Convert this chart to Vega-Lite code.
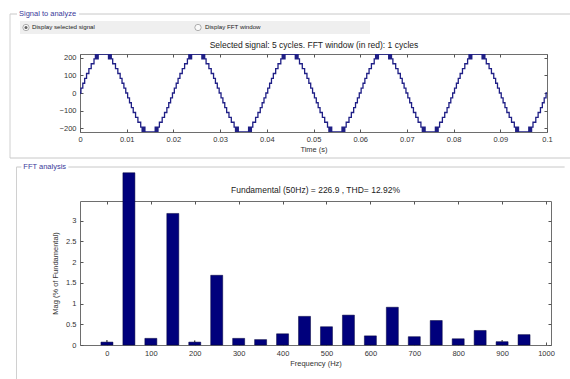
{
  "$schema": "https://vega.github.io/schema/vega-lite/v6.json",
  "autosize": {"type": "none"},
  "padding": {"left": 80, "top": 54, "right": 490, "bottom": 325},
  "background": "white",
  "bounds": "flush",
  "spacing": 69,
  "config": {
    "font": "Liberation Sans",
    "view": {"stroke": "#6e6e6e", "strokeWidth": 1},
    "axis": {"grid": false, "domain": false, "tickColor": "#555555", "tickSize": -3, "labelFontSize": 7.5, "labelColor": "#333333", "titleFontSize": 7.5, "titleFontWeight": "normal", "titleColor": "#333333", "labelFlush": false, "labelPadding": 7},
    "text": {"font": "Liberation Sans"}
  },
  "datasets": {
    "signal": [
      {"t":0,"v":0},
      {"t":0.0002,"v":27.5},{"t":0.0006,"v":55},{"t":0.001,"v":82.5},{"t":0.0014,"v":110},{"t":0.0019,"v":137.5},{"t":0.0024,"v":165},{"t":0.003,"v":192.5},{"t":0.0033,"v":220},{"t":0.0034,"v":192.5},{"t":0.0036,"v":220},{"t":0.0037,"v":192.5},{"t":0.0039,"v":220},{"t":0.0061,"v":192.5},{"t":0.0063,"v":220},{"t":0.0064,"v":192.5},{"t":0.0066,"v":220},{"t":0.0067,"v":192.5},{"t":0.007,"v":165},{"t":0.0076,"v":137.5},{"t":0.0081,"v":110},{"t":0.0086,"v":82.5},{"t":0.009,"v":55},{"t":0.0094,"v":27.5},{"t":0.0098,"v":0},
      {"t":0.0102,"v":-27.5},{"t":0.0106,"v":-55},{"t":0.011,"v":-82.5},{"t":0.0114,"v":-110},{"t":0.0119,"v":-137.5},{"t":0.0124,"v":-165},{"t":0.013,"v":-192.5},{"t":0.0133,"v":-220},{"t":0.0134,"v":-192.5},{"t":0.0136,"v":-220},{"t":0.0137,"v":-192.5},{"t":0.0139,"v":-220},{"t":0.0161,"v":-192.5},{"t":0.0163,"v":-220},{"t":0.0164,"v":-192.5},{"t":0.0166,"v":-220},{"t":0.0167,"v":-192.5},{"t":0.017,"v":-165},{"t":0.0176,"v":-137.5},{"t":0.0181,"v":-110},{"t":0.0186,"v":-82.5},{"t":0.019,"v":-55},{"t":0.0194,"v":-27.5},{"t":0.0198,"v":0},
      {"t":0.0202,"v":27.5},{"t":0.0206,"v":55},{"t":0.021,"v":82.5},{"t":0.0214,"v":110},{"t":0.0219,"v":137.5},{"t":0.0224,"v":165},{"t":0.023,"v":192.5},{"t":0.0233,"v":220},{"t":0.0234,"v":192.5},{"t":0.0236,"v":220},{"t":0.0237,"v":192.5},{"t":0.0239,"v":220},{"t":0.0261,"v":192.5},{"t":0.0263,"v":220},{"t":0.0264,"v":192.5},{"t":0.0266,"v":220},{"t":0.0267,"v":192.5},{"t":0.027,"v":165},{"t":0.0276,"v":137.5},{"t":0.0281,"v":110},{"t":0.0286,"v":82.5},{"t":0.029,"v":55},{"t":0.0294,"v":27.5},{"t":0.0298,"v":0},
      {"t":0.0302,"v":-27.5},{"t":0.0306,"v":-55},{"t":0.031,"v":-82.5},{"t":0.0314,"v":-110},{"t":0.0319,"v":-137.5},{"t":0.0324,"v":-165},{"t":0.033,"v":-192.5},{"t":0.0333,"v":-220},{"t":0.0334,"v":-192.5},{"t":0.0336,"v":-220},{"t":0.0337,"v":-192.5},{"t":0.0339,"v":-220},{"t":0.0361,"v":-192.5},{"t":0.0363,"v":-220},{"t":0.0364,"v":-192.5},{"t":0.0366,"v":-220},{"t":0.0367,"v":-192.5},{"t":0.037,"v":-165},{"t":0.0376,"v":-137.5},{"t":0.0381,"v":-110},{"t":0.0386,"v":-82.5},{"t":0.039,"v":-55},{"t":0.0394,"v":-27.5},{"t":0.0398,"v":0},
      {"t":0.0402,"v":27.5},{"t":0.0406,"v":55},{"t":0.041,"v":82.5},{"t":0.0414,"v":110},{"t":0.0419,"v":137.5},{"t":0.0424,"v":165},{"t":0.043,"v":192.5},{"t":0.0433,"v":220},{"t":0.0434,"v":192.5},{"t":0.0436,"v":220},{"t":0.0437,"v":192.5},{"t":0.0439,"v":220},{"t":0.0461,"v":192.5},{"t":0.0463,"v":220},{"t":0.0464,"v":192.5},{"t":0.0466,"v":220},{"t":0.0467,"v":192.5},{"t":0.047,"v":165},{"t":0.0476,"v":137.5},{"t":0.0481,"v":110},{"t":0.0486,"v":82.5},{"t":0.049,"v":55},{"t":0.0494,"v":27.5},{"t":0.0498,"v":0},
      {"t":0.0502,"v":-27.5},{"t":0.0506,"v":-55},{"t":0.051,"v":-82.5},{"t":0.0514,"v":-110},{"t":0.0519,"v":-137.5},{"t":0.0524,"v":-165},{"t":0.053,"v":-192.5},{"t":0.0533,"v":-220},{"t":0.0534,"v":-192.5},{"t":0.0536,"v":-220},{"t":0.0537,"v":-192.5},{"t":0.0539,"v":-220},{"t":0.0561,"v":-192.5},{"t":0.0563,"v":-220},{"t":0.0564,"v":-192.5},{"t":0.0566,"v":-220},{"t":0.0567,"v":-192.5},{"t":0.057,"v":-165},{"t":0.0576,"v":-137.5},{"t":0.0581,"v":-110},{"t":0.0586,"v":-82.5},{"t":0.059,"v":-55},{"t":0.0594,"v":-27.5},{"t":0.0598,"v":0},
      {"t":0.0602,"v":27.5},{"t":0.0606,"v":55},{"t":0.061,"v":82.5},{"t":0.0614,"v":110},{"t":0.0619,"v":137.5},{"t":0.0624,"v":165},{"t":0.063,"v":192.5},{"t":0.0633,"v":220},{"t":0.0634,"v":192.5},{"t":0.0636,"v":220},{"t":0.0637,"v":192.5},{"t":0.0639,"v":220},{"t":0.0661,"v":192.5},{"t":0.0663,"v":220},{"t":0.0664,"v":192.5},{"t":0.0666,"v":220},{"t":0.0667,"v":192.5},{"t":0.067,"v":165},{"t":0.0676,"v":137.5},{"t":0.0681,"v":110},{"t":0.0686,"v":82.5},{"t":0.069,"v":55},{"t":0.0694,"v":27.5},{"t":0.0698,"v":0},
      {"t":0.0702,"v":-27.5},{"t":0.0706,"v":-55},{"t":0.071,"v":-82.5},{"t":0.0714,"v":-110},{"t":0.0719,"v":-137.5},{"t":0.0724,"v":-165},{"t":0.073,"v":-192.5},{"t":0.0733,"v":-220},{"t":0.0734,"v":-192.5},{"t":0.0736,"v":-220},{"t":0.0737,"v":-192.5},{"t":0.0739,"v":-220},{"t":0.0761,"v":-192.5},{"t":0.0763,"v":-220},{"t":0.0764,"v":-192.5},{"t":0.0766,"v":-220},{"t":0.0767,"v":-192.5},{"t":0.077,"v":-165},{"t":0.0776,"v":-137.5},{"t":0.0781,"v":-110},{"t":0.0786,"v":-82.5},{"t":0.079,"v":-55},{"t":0.0794,"v":-27.5},{"t":0.0798,"v":0},
      {"t":0.0802,"v":27.5},{"t":0.0806,"v":55},{"t":0.081,"v":82.5},{"t":0.0814,"v":110},{"t":0.0819,"v":137.5},{"t":0.0824,"v":165},{"t":0.083,"v":192.5},{"t":0.0833,"v":220},{"t":0.0834,"v":192.5},{"t":0.0836,"v":220},{"t":0.0837,"v":192.5},{"t":0.0839,"v":220},{"t":0.0861,"v":192.5},{"t":0.0863,"v":220},{"t":0.0864,"v":192.5},{"t":0.0866,"v":220},{"t":0.0867,"v":192.5},{"t":0.087,"v":165},{"t":0.0876,"v":137.5},{"t":0.0881,"v":110},{"t":0.0886,"v":82.5},{"t":0.089,"v":55},{"t":0.0894,"v":27.5},{"t":0.0898,"v":0},
      {"t":0.0902,"v":-27.5},{"t":0.0906,"v":-55},{"t":0.091,"v":-82.5},{"t":0.0914,"v":-110},{"t":0.0919,"v":-137.5},{"t":0.0924,"v":-165},{"t":0.093,"v":-192.5},{"t":0.0933,"v":-220},{"t":0.0934,"v":-192.5},{"t":0.0936,"v":-220},{"t":0.0937,"v":-192.5},{"t":0.0939,"v":-220},{"t":0.0961,"v":-192.5},{"t":0.0963,"v":-220},{"t":0.0964,"v":-192.5},{"t":0.0966,"v":-220},{"t":0.0967,"v":-192.5},{"t":0.097,"v":-165},{"t":0.0976,"v":-137.5},{"t":0.0981,"v":-110},{"t":0.0986,"v":-82.5},{"t":0.099,"v":-55},{"t":0.0994,"v":-27.5},{"t":0.0998,"v":0},
      {"t":0.1,"v":0}
    ],
    "fft": [
      {"f":0,"m":0.07},{"f":50,"m":4.15},{"f":100,"m":0.16},{"f":150,"m":3.17},{"f":200,"m":0.07},
      {"f":250,"m":1.68},{"f":300,"m":0.16},{"f":350,"m":0.13},{"f":400,"m":0.27},{"f":450,"m":0.69},
      {"f":500,"m":0.44},{"f":550,"m":0.72},{"f":600,"m":0.22},{"f":650,"m":0.91},{"f":700,"m":0.2},
      {"f":750,"m":0.59},{"f":800,"m":0.15},{"f":850,"m":0.35},{"f":900,"m":0.08},{"f":950,"m":0.25}
    ],
    "spikes": [
      {"f":0,"lo":0.07,"hi":0.12},{"f":200,"lo":0.07,"hi":0.11},{"f":900,"lo":0.08,"hi":0.12}
    ]
  },
  "vconcat": [
    {
      "width": 467,
      "height": 78,
      "resolve": {"axis": {"x": "independent", "y": "independent"}},
      "layer": [
        {
          "data": {"values": [{}]},
          "mark": {"type": "rule", "color": "#c8c8c8", "strokeWidth": 1},
          "encoding": {
            "x": {"datum": -0.014989, "type": "quantitative", "axis": null},
            "x2": {"datum": -0.01349},
            "y": {"datum": 445.6, "type": "quantitative", "axis": null}
          }
        },
        {
          "data": {"values": [{}]},
          "mark": {"type": "rule", "color": "#c8c8c8", "strokeWidth": 1},
          "encoding": {
            "x": {"datum": -0.0002, "type": "quantitative", "axis": null},
            "x2": {"datum": 0.104925},
            "y": {"datum": 445.6, "type": "quantitative", "axis": null}
          }
        },
        {
          "data": {"values": [{}]},
          "mark": {"type": "rule", "color": "#d0d0d0", "strokeWidth": 1},
          "encoding": {
            "x": {"datum": -0.014989, "type": "quantitative", "axis": null},
            "y": {"datum": 445.6, "type": "quantitative", "axis": null},
            "y2": {"datum": -366.7}
          }
        },
        {
          "data": {"values": [{}]},
          "mark": {"type": "rule", "color": "#c8c8c8", "strokeWidth": 1},
          "encoding": {
            "x": {"datum": -0.014989, "type": "quantitative", "axis": null},
            "x2": {"datum": 0.104925},
            "y": {"datum": -366.7, "type": "quantitative", "axis": null}
          }
        },
        {
          "data": {"values": [{}]},
          "mark": {"type": "text", "align": "left", "baseline": "middle", "fontSize": 7.5, "color": "#3a3a9a"},
          "encoding": {
            "x": {"datum": -0.013062, "type": "quantitative", "axis": null},
            "y": {"datum": 445.6, "type": "quantitative", "axis": null},
            "text": {"value": "Signal to analyze"}
          }
        },
        {
          "data": {"values": [{}]},
          "mark": {"type": "rect", "color": "#efefef"},
          "encoding": {
            "x": {"datum": -0.012848, "type": "quantitative", "axis": null},
            "x2": {"datum": 0.062099},
            "y": {"datum": 406.2, "type": "quantitative", "axis": null},
            "y2": {"datum": 332.8}
          }
        },
        {
          "data": {"values": [{"tx": -0.011563}, {"tx": 0.025268}]},
          "mark": {"type": "point", "shape": "circle", "size": 40, "filled": true, "fill": "white", "stroke": "#7a7a7a", "strokeWidth": 0.8},
          "encoding": {
            "x": {"field": "tx", "type": "quantitative", "axis": null},
            "y": {"datum": 369.5, "type": "quantitative", "axis": null}
          }
        },
        {
          "data": {"values": [{}]},
          "mark": {"type": "point", "shape": "circle", "size": 9, "filled": true, "color": "#222222"},
          "encoding": {
            "x": {"datum": -0.011563, "type": "quantitative", "axis": null},
            "y": {"datum": 369.5, "type": "quantitative", "axis": null}
          }
        },
        {
          "data": {"values": [{"tx": -0.010278, "label": "Display selected signal"}, {"tx": 0.026767, "label": "Display FFT window"}]},
          "mark": {"type": "text", "align": "left", "baseline": "middle", "fontSize": 6.2, "color": "#222222"},
          "encoding": {
            "x": {"field": "tx", "type": "quantitative", "axis": null},
            "y": {"datum": 369.5, "type": "quantitative", "axis": null},
            "text": {"field": "label"}
          }
        },
        {
          "data": {"values": [{}]},
          "mark": {"type": "text", "align": "center", "baseline": "middle", "fontSize": 8.5, "color": "#222222"},
          "encoding": {
            "x": {"datum": 0.0501, "type": "quantitative", "axis": null},
            "y": {"datum": 270.8, "type": "quantitative", "axis": null},
            "text": {"value": "Selected signal: 5 cycles. FFT window (in red): 1 cycles"}
          }
        },
        {
          "data": {"name": "signal"},
          "mark": {"type": "line", "interpolate": "step-after", "color": "#1f1f86", "strokeWidth": 1.3, "clip": true},
          "encoding": {
            "x": {"field": "t", "type": "quantitative", "scale": {"domain": [0, 0.1], "nice": false, "zero": false},
                  "axis": {"values": [0, 0.01, 0.02, 0.03, 0.04, 0.05, 0.06, 0.07, 0.08, 0.09, 0.1], "format": "~g", "title": "Time (s)", "titlePadding": 3, "labelPadding": 6}},
            "y": {"field": "v", "type": "quantitative", "scale": {"domain": [-220, 220], "nice": false, "zero": false},
                  "axis": {"values": [-200, -100, 0, 100, 200], "title": null}}
          }
        },
        {
          "data": {"values": [{}]},
          "mark": {"type": "point", "opacity": 0},
          "encoding": {
            "x": {"datum": 0.05, "type": "quantitative", "axis": {"orient": "top", "labels": false, "title": null, "values": [0, 0.01, 0.02, 0.03, 0.04, 0.05, 0.06, 0.07, 0.08, 0.09, 0.1]}},
            "y": {"datum": 0, "type": "quantitative", "axis": {"orient": "right", "labels": false, "title": null, "values": [-200, -100, 0, 100, 200]}}
          }
        }
      ]
    },
    {
      "width": 471,
      "height": 144,
      "resolve": {"axis": {"x": "independent", "y": "independent"}},
      "layer": [
        {
          "data": {"values": [{}]},
          "mark": {"type": "rule", "color": "#c8c8c8", "strokeWidth": 1},
          "encoding": {
            "x": {"datum": -206.05, "type": "quantitative", "axis": null},
            "x2": {"datum": -194.9},
            "y": {"datum": 4.2893, "type": "quantitative", "axis": null}
          }
        },
        {
          "data": {"values": [{}]},
          "mark": {"type": "rule", "color": "#c8c8c8", "strokeWidth": 1},
          "encoding": {
            "x": {"datum": -87.9, "type": "quantitative", "axis": null},
            "x2": {"datum": 1042.4},
            "y": {"datum": 4.2893, "type": "quantitative", "axis": null}
          }
        },
        {
          "data": {"values": [{}]},
          "mark": {"type": "rule", "color": "#d0d0d0", "strokeWidth": 1},
          "encoding": {
            "x": {"datum": -206.05, "type": "quantitative", "axis": null},
            "y": {"datum": 4.2893, "type": "quantitative", "axis": null},
            "y2": {"datum": -0.8193}
          }
        },
        {
          "data": {"values": [{}]},
          "mark": {"type": "text", "align": "left", "baseline": "middle", "fontSize": 7.5, "color": "#3a3a9a"},
          "encoding": {
            "x": {"datum": -190.45, "type": "quantitative", "axis": null},
            "y": {"datum": 4.2893, "type": "quantitative", "axis": null},
            "text": {"value": "FFT analysis"}
          }
        },
        {
          "data": {"values": [{}]},
          "mark": {"type": "text", "align": "center", "baseline": "middle", "fontSize": 8.5, "color": "#222222"},
          "encoding": {
            "x": {"datum": 475, "type": "quantitative", "axis": null},
            "y": {"datum": 3.735, "type": "quantitative", "axis": null},
            "text": {"value": "Fundamental (50Hz) = 226.9 , THD= 12.92%"}
          }
        },
        {
          "data": {"name": "fft"},
          "mark": {"type": "bar", "size": 12, "color": "#00007c", "stroke": "#00003a", "strokeWidth": 0.5},
          "encoding": {
            "x": {"field": "f", "type": "quantitative", "scale": {"domain": [-50, 1000], "nice": false, "zero": false},
                  "axis": {"values": [0, 100, 200, 300, 400, 500, 600, 700, 800, 900, 1000], "format": "d", "title": "Frequency (Hz)", "titlePadding": 3}},
            "y": {"field": "m", "type": "quantitative", "scale": {"domain": [0, 3.47], "nice": false},
                  "axis": {"values": [0, 0.5, 1, 1.5, 2, 2.5, 3], "format": "~g", "title": "Mag (% of Fundamental)", "titlePadding": 6}}
          }
        },
        {
          "data": {"name": "spikes"},
          "mark": {"type": "rule", "color": "#111111", "strokeWidth": 1},
          "encoding": {
            "x": {"field": "f", "type": "quantitative", "axis": null},
            "y": {"field": "lo", "type": "quantitative", "axis": null},
            "y2": {"field": "hi"}
          }
        },
        {
          "data": {"values": [{}]},
          "mark": {"type": "point", "opacity": 0},
          "encoding": {
            "x": {"datum": 500, "type": "quantitative", "axis": {"orient": "top", "labels": false, "title": null, "values": [0, 100, 200, 300, 400, 500, 600, 700, 800, 900, 1000]}},
            "y": {"datum": 1, "type": "quantitative", "axis": {"orient": "right", "labels": false, "title": null, "values": [0, 0.5, 1, 1.5, 2, 2.5, 3]}}
          }
        }
      ]
    }
  ]
}
